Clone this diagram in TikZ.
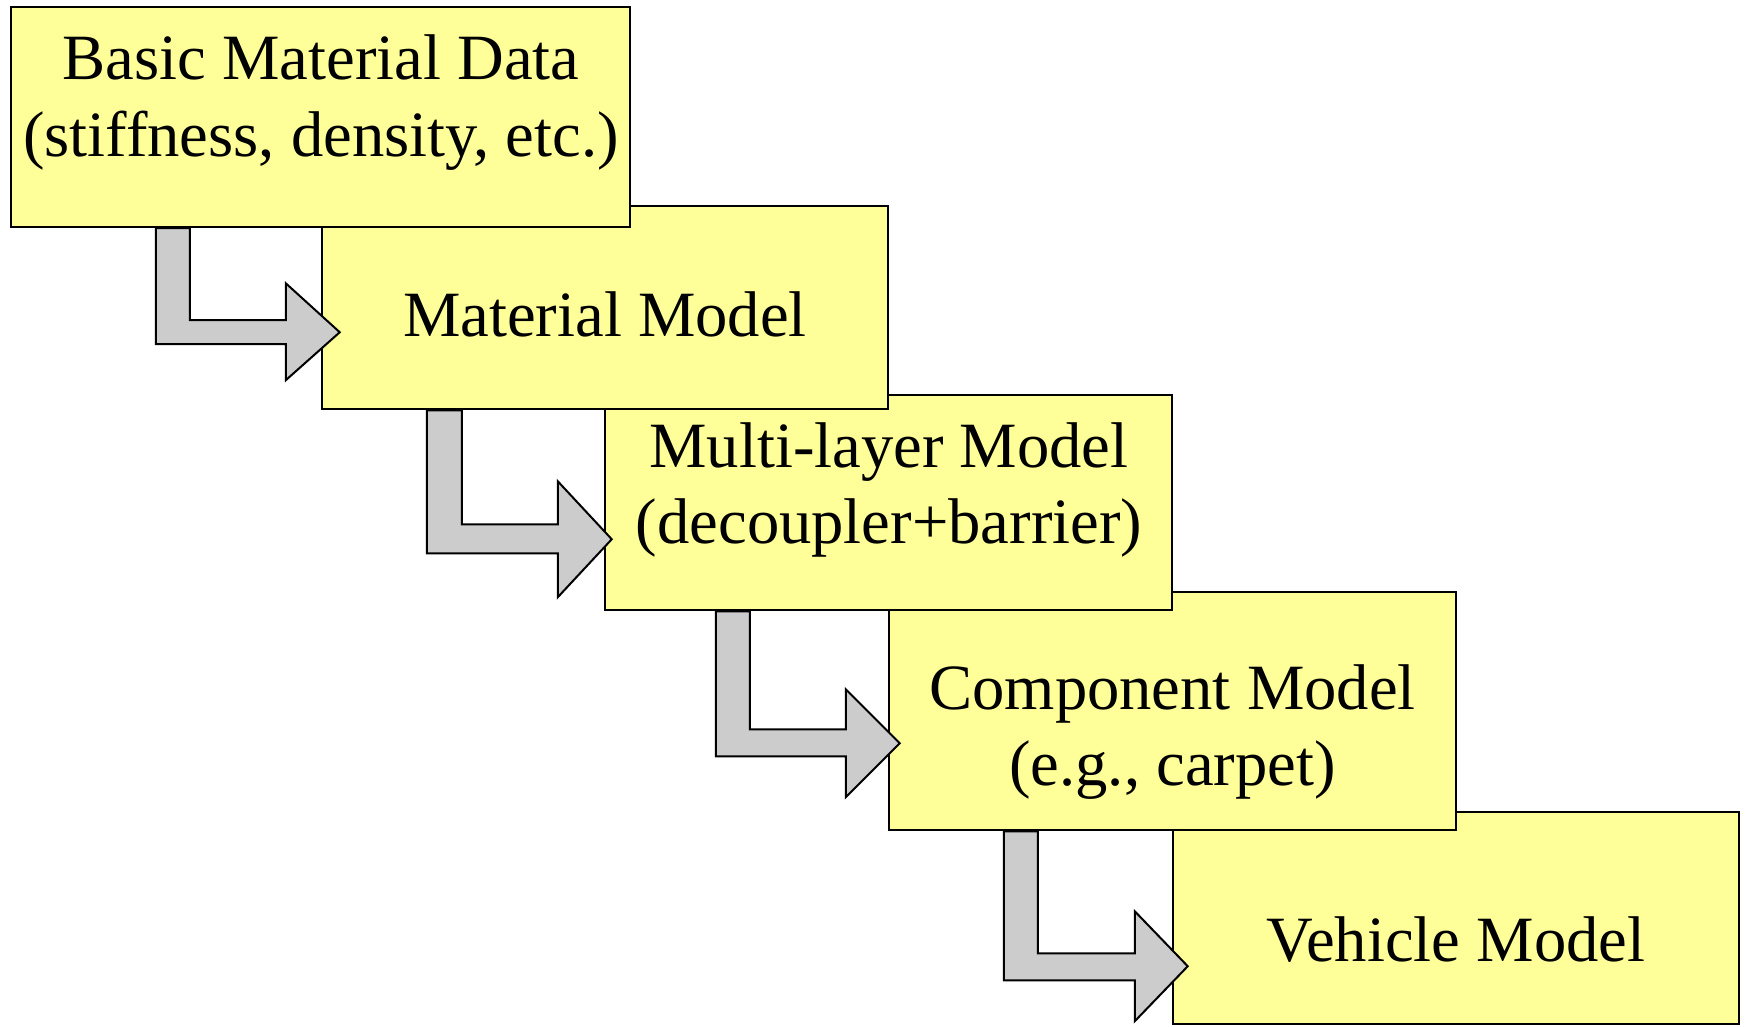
\documentclass[tikz,border=0pt]{standalone}
\usepackage{fontspec}
\setmainfont{Liberation Serif}
\usetikzlibrary{calc}
\definecolor{boxyellow}{HTML}{FFFF99}
\definecolor{arrowgray}{HTML}{CCCCCC}
\tikzset{
  stagebox/.style={draw=black, line width=1.25pt, fill=boxyellow, inner sep=0pt},
  stagetext/.style={anchor=base, inner sep=0pt, font=\fontsize{32.3}{38}\selectfont},
  blockarrow/.style={draw=black, line width=1pt, fill=arrowgray, line join=miter}
}
\begin{document}
\begin{tikzpicture}[x=0.5pt,y=-0.5pt]
\useasboundingbox (0,0) rectangle (1746,1027);
% boxes, last first so earlier boxes lie on top
\node[stagebox, minimum width=283pt, minimum height=106pt] (b5) at (1456,918) {};
\node[stagebox, minimum width=283.5pt, minimum height=119pt] (b4) at (1172.5,711) {};
\node[stagebox, minimum width=283.5pt, minimum height=107.5pt] (b3) at (888.5,502.5) {};
\node[stagebox, minimum width=283pt, minimum height=101.5pt] (b2) at (605,307.5) {};
\node[stagebox, minimum width=309.5pt, minimum height=110pt] (b1) at (320.5,117) {};
% labels
\node[stagetext] (t1a) at (321,80) {Basic Material Data};
\node[stagetext] (t1b) at (321,157) {(stiffness, density, etc.)};
\node[stagetext] (t2) at (605,336) {Material Model};
\node[stagetext] (t3a) at (889,467) {Multi-layer Model};
\node[stagetext] (t3b) at (889,543) {(decoupler+barrier)};
\node[stagetext] (t4a) at (1172.5,709) {Component Model};
\node[stagetext] (t4b) at (1172.5,785) {(e.g., carpet)};
\node[stagetext] (t5) at (1456,961) {Vehicle Model};
% block arrows
\draw[blockarrow] ($(b1.south west)+(146,0)$) -- ++(34,0) -- ++(0,92) -- ++(96,0) -- ++(0,-37) -- ++(54,49) -- ++(-54,48) -- ++(0,-36) -- ++(-130,0) -- cycle;
\draw[blockarrow] ($(b2.south west)+(106,0)$) -- ++(35,0) -- ++(0,114) -- ++(96,0) -- ++(0,-43) -- ++(54,58) -- ++(-54,58) -- ++(0,-44) -- ++(-131,0) -- cycle;
\draw[blockarrow] ($(b3.south west)+(112,0)$) -- ++(34,0) -- ++(0,118) -- ++(96,0) -- ++(0,-40) -- ++(54,54) -- ++(-54,54) -- ++(0,-41) -- ++(-130,0) -- cycle;
\draw[blockarrow] ($(b4.south west)+(116,0)$) -- ++(34,0) -- ++(0,122) -- ++(97,0) -- ++(0,-42) -- ++(53,55) -- ++(-53,55) -- ++(0,-41) -- ++(-131,0) -- cycle;
\end{tikzpicture}
\end{document}
